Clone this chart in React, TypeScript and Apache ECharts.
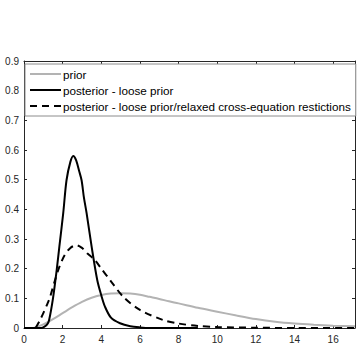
import React, { useEffect, useRef } from "react";
import * as echarts from "echarts";

const seriesNames = [
  "prior",
  "posterior - loose prior",
  "posterior - loose prior/relaxed cross-equation restictions",
];

const priorX = [0.5, 1, 1.5, 2, 2.5, 3, 3.5, 4, 4.5, 5, 5.5, 6, 6.5, 7, 7.5, 8, 9, 10, 11, 12, 13, 14, 15, 16, 17.13];
const priorY = [0, 0.012, 0.03, 0.05, 0.07, 0.088, 0.102, 0.111, 0.116, 0.117, 0.116, 0.112, 0.105, 0.098, 0.09, 0.083, 0.068, 0.055, 0.042, 0.03, 0.021, 0.015, 0.011, 0.008, 0.006];

const looseX = [0, 0.9, 1.0, 1.2, 1.3, 1.5, 1.7, 1.83, 2.03, 2.2, 2.4, 2.55, 2.7, 2.85, 2.98, 3.1, 3.24, 3.5, 3.79, 4.0, 4.19, 4.5, 4.97, 5.5, 6, 6.5, 9];
const looseY = [0, 0, 0.002, 0.012, 0.027, 0.1, 0.2, 0.274, 0.387, 0.498, 0.56, 0.58, 0.565, 0.53, 0.498, 0.44, 0.387, 0.274, 0.162, 0.11, 0.072, 0.035, 0.016, 0.006, 0.002, 0, 0];

const relaxedX = [0.6, 0.83, 1.0, 1.2, 1.35, 1.6, 1.83, 2.1, 2.4, 2.72, 3.0, 3.3, 3.67, 4.0, 4.45, 5.14, 6.0, 7.2, 8, 9, 10, 12, 14, 17.13];
const relaxedY = [0, 0.027, 0.05, 0.08, 0.105, 0.16, 0.206, 0.245, 0.27, 0.279, 0.27, 0.25, 0.229, 0.2, 0.162, 0.105, 0.061, 0.027, 0.015, 0.007, 0.003, 0.001, 0, 0];

const zip = (xs: number[], ys: number[]) => xs.map((x, i) => [x, ys[i]]);

const AXIS = "#262626";
const FONT = "Liberation Sans, Arial, sans-serif";

export default function App() {
  const ref = useRef<HTMLDivElement>(null);
  useEffect(() => {
    if (!ref.current) return;
    const chart = echarts.init(ref.current, null, { renderer: "svg" });
    const xBase = {
      type: "value" as const,
      min: 0,
      max: 17.13,
      interval: 2,
      splitLine: { show: false },
      axisLine: { show: true, onZero: false, lineStyle: { color: AXIS, width: 1 } },
      axisTick: { show: true, inside: true, length: 3, lineStyle: { color: AXIS } },
    };
    const yBase = {
      type: "value" as const,
      min: 0,
      max: 0.9,
      interval: 0.1,
      splitLine: { show: false },
      axisLine: { show: true, onZero: false, lineStyle: { color: AXIS, width: 1 } },
      axisTick: { show: true, inside: true, length: 3, lineStyle: { color: AXIS } },
    };
    chart.setOption({
      animation: false,
      backgroundColor: "#ffffff",
      textStyle: { fontFamily: FONT },
      grid: { left: 24, top: 61, right: 4, bottom: 31, containLabel: false },
      legend: {
        orient: "vertical",
        left: 25,
        top: 64,
        padding: [4, 5, 4, 4],
        itemGap: 4,
        itemWidth: 31,
        itemHeight: 10,
        backgroundColor: "#ffffff",
        borderColor: "#8c8c8c",
        borderWidth: 1,
        borderRadius: 0,
        itemStyle: { opacity: 0 },
        textStyle: { fontFamily: FONT, fontSize: 11.7, color: "#000", lineHeight: 12, padding: [0, 0, 0, -3] },
        data: seriesNames,
      },
      xAxis: [
        {
          ...xBase,
          position: "bottom",
          axisLabel: { show: true, color: AXIS, fontSize: 10, fontFamily: FONT, margin: 6, showMaxLabel: false },
        },
        { ...xBase, position: "top", axisLabel: { show: false } },
      ],
      yAxis: [
        {
          ...yBase,
          position: "left",
          axisLabel: { show: true, color: AXIS, fontSize: 10, fontFamily: FONT, margin: 5 },
        },
        { ...yBase, position: "right", axisLabel: { show: false } },
      ],
      series: [
        {
          name: seriesNames[0],
          type: "line",
          smooth: 0.3,
          symbol: "none",
          data: zip(priorX, priorY),
          lineStyle: { color: "#b3b3b3", width: 2 },
          itemStyle: { color: "#b3b3b3" },
          z: 2,
        },
        {
          name: seriesNames[1],
          type: "line",
          smooth: 0.3,
          symbol: "none",
          data: zip(looseX, looseY),
          lineStyle: { color: "#000", width: 2 },
          itemStyle: { color: "#000" },
          z: 3,
        },
        {
          name: seriesNames[2],
          type: "line",
          smooth: 0.3,
          symbol: "none",
          data: zip(relaxedX, relaxedY),
          lineStyle: { color: "#000", width: 2, type: [7, 5] },
          itemStyle: { color: "#000" },
          z: 4,
        },
      ],
    });
    return () => chart.dispose();
  }, []);
  return <div ref={ref} style={{ position: "fixed", left: 0, top: 0, width: 359, height: 359 }} />;
}
